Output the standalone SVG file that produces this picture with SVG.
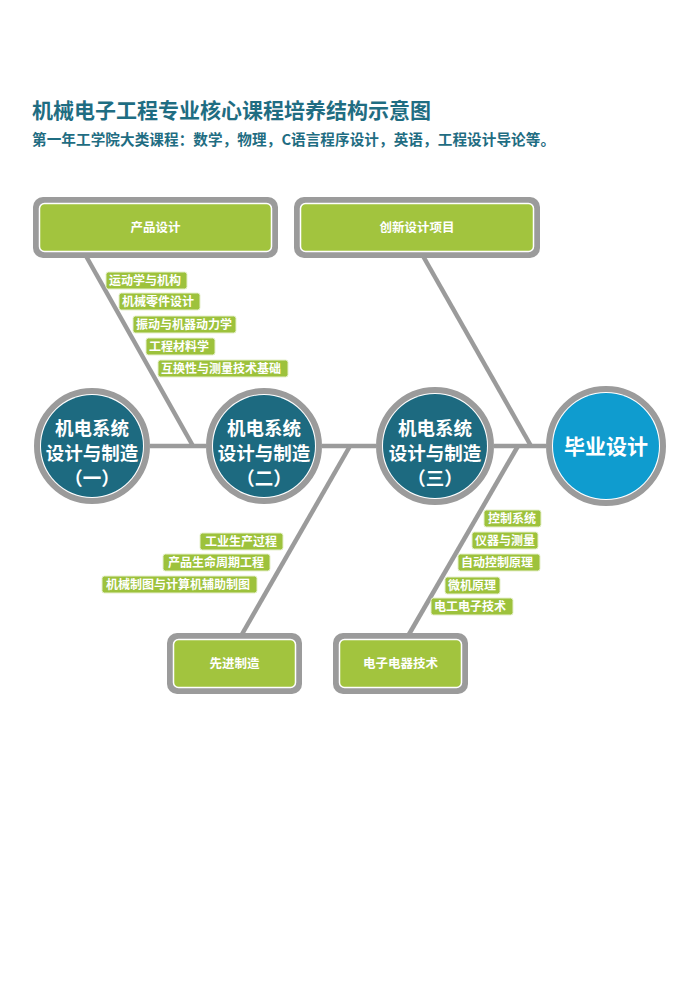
<svg xmlns="http://www.w3.org/2000/svg" width="700" height="990" viewBox="0 0 700 990">
<style>
text{font-family:"Noto Sans CJK SC","Noto Sans",sans-serif;font-weight:bold}
.title{fill:#1f6d82;font-size:21px}
.sub{fill:#1f6d82;font-size:14.6px}
.conn{stroke:#9b9b9b;stroke-width:4.5;fill:none}
.boxo{fill:#9b9b9b}
.boxi{fill:#a2c43e;stroke:#fff;stroke-width:1.5}
.boxt{fill:#fff;font-size:12.5px;text-anchor:middle}
.ring{fill:#fff;stroke:#9b9b9b;stroke-width:6}
.teal{fill:#1d6a80}
.blue{fill:#0f9ccf}
.ct{fill:#fff;font-size:18.5px;text-anchor:middle}
.tag{fill:#9dc23c;stroke:#e6f0cc;stroke-width:1}
.tt{fill:#fff;font-size:12px}
</style>
<rect width="700" height="990" fill="#fff"/>
<text class="title" x="32" y="118">机械电子工程专业核心课程培养结构示意图</text>
<text class="sub" x="32" y="145" textLength="523" lengthAdjust="spacing">第一年工学院大类课程：数学，物理，C语言程序设计，英语，工程设计导论等。</text>

<g id="connectors">
<line class="conn" x1="150" y1="446" x2="206" y2="446"/>
<line class="conn" x1="322" y1="446" x2="376" y2="446"/>
<line class="conn" x1="494" y1="446" x2="546" y2="446"/>
<line class="conn" x1="86" y1="256" x2="193" y2="446"/>
<line class="conn" x1="423" y1="256" x2="531" y2="446"/>
<line class="conn" x1="350" y1="446" x2="241" y2="636"/>
<line class="conn" x1="518" y1="446" x2="408" y2="636"/>
</g>

<g id="box-product">
<rect class="boxo" x="33" y="197" width="245" height="61" rx="10"/>
<rect class="boxi" x="39.5" y="203.5" width="232" height="48" rx="5"/>
<text class="boxt" x="155.5" y="232">产品设计</text>
</g>
<g id="box-innov">
<rect class="boxo" x="294" y="197" width="246" height="61" rx="10"/>
<rect class="boxi" x="300.5" y="203.5" width="233" height="48" rx="5"/>
<text class="boxt" x="417" y="232">创新设计项目</text>
</g>
<g id="box-adv">
<rect class="boxo" x="167" y="633" width="135" height="61" rx="10"/>
<rect class="boxi" x="173.5" y="639.5" width="122" height="48" rx="5"/>
<text class="boxt" x="234.5" y="668">先进制造</text>
</g>
<g id="box-elec">
<rect class="boxo" x="333" y="633" width="135" height="61" rx="10"/>
<rect class="boxi" x="339.5" y="639.5" width="122" height="48" rx="5"/>
<text class="boxt" x="400.5" y="668">电子电器技术</text>
</g>

<g id="c1">
<circle class="ring" cx="92" cy="446" r="55"/>
<circle class="teal" cx="92" cy="446" r="51"/>
<text class="ct" x="92" y="435">机电系统</text>
<text class="ct" x="92" y="460">设计与制造</text>
<text class="ct" x="92" y="485">（一）</text>
</g>
<g id="c2">
<circle class="ring" cx="264" cy="446" r="55"/>
<circle class="teal" cx="264" cy="446" r="51"/>
<text class="ct" x="264" y="435">机电系统</text>
<text class="ct" x="264" y="460">设计与制造</text>
<text class="ct" x="264" y="485">（二）</text>
</g>
<g id="c3">
<circle class="ring" cx="435" cy="446" r="56"/>
<circle class="teal" cx="435" cy="446" r="52"/>
<text class="ct" x="435" y="435">机电系统</text>
<text class="ct" x="435" y="460">设计与制造</text>
<text class="ct" x="435" y="485">（三）</text>
</g>
<g id="c4">
<circle class="ring" cx="606" cy="446" r="57"/>
<circle class="blue" cx="606" cy="446" r="53"/>
<text class="ct" x="606" y="454" style="font-size:21px">毕业设计</text>
</g>

<g id="tags1">
<rect class="tag" x="106" y="272" width="81" height="17" rx="2.5"/><text class="tt" x="109" y="285">运动学与机构</text>
<rect class="tag" x="119" y="293" width="81" height="17" rx="2.5"/><text class="tt" x="122" y="306">机械零件设计</text>
<rect class="tag" x="133" y="316" width="103" height="17" rx="2.5"/><text class="tt" x="136" y="329">振动与机器动力学</text>
<rect class="tag" x="146" y="338" width="69" height="17" rx="2.5"/><text class="tt" x="149" y="351">工程材料学</text>
<rect class="tag" x="158" y="360" width="130" height="17" rx="2.5"/><text class="tt" x="161" y="373">互换性与测量技术基础</text>
</g>
<g id="tags2">
<rect class="tag" x="200" y="533" width="83" height="17" rx="2.5"/><text class="tt" x="205" y="546">工业生产过程</text>
<rect class="tag" x="163" y="554" width="107" height="17" rx="2.5"/><text class="tt" x="168" y="567">产品生命周期工程</text>
<rect class="tag" x="102" y="576" width="155" height="17" rx="2.5"/><text class="tt" x="106" y="589">机械制图与计算机辅助制图</text>
</g>
<g id="tags3">
<rect class="tag" x="484" y="510" width="57" height="17" rx="2.5"/><text class="tt" x="488" y="523">控制系统</text>
<rect class="tag" x="472" y="532" width="66" height="17" rx="2.5"/><text class="tt" x="475" y="545">仪器与测量</text>
<rect class="tag" x="458" y="554" width="82" height="17" rx="2.5"/><text class="tt" x="461" y="567">自动控制原理</text>
<rect class="tag" x="445" y="577" width="55" height="17" rx="2.5"/><text class="tt" x="448" y="590">微机原理</text>
<rect class="tag" x="431" y="598" width="82" height="17" rx="2.5"/><text class="tt" x="434" y="611">电工电子技术</text>
</g>
</svg>
